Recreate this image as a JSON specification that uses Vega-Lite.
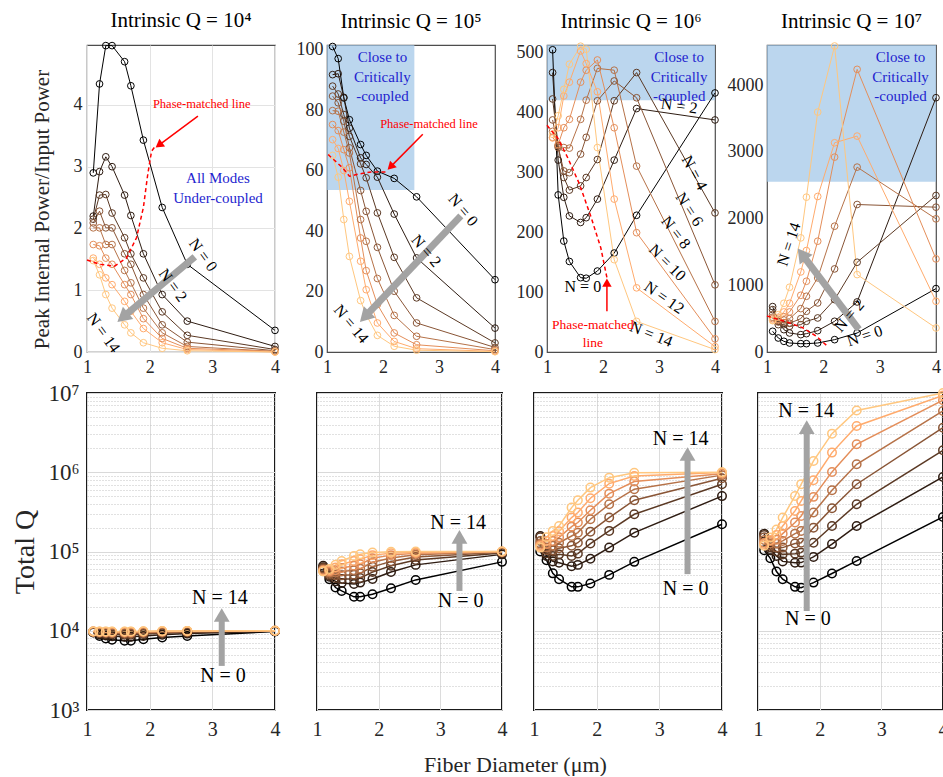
{
"$schema":"https://vega.github.io/schema/vega-lite/v6.json",
"background":"#ffffff",
"padding":{"left":10,"top":9,"right":0,"bottom":0},
"config":{
 "font":"Liberation Serif",
 "axis":{"labelFont":"Liberation Serif","titleFont":"Liberation Serif","labelColor":"#262626","titleColor":"#262626","titleFontWeight":"normal","domain":false,"ticks":false,"tickSize":0,"labelFlush":false,"labelOverlap":false},
 "title":{"font":"Liberation Serif","fontWeight":"normal","fontSize":21,"offset":9,"color":"#000000"},
 "text":{"font":"Liberation Serif"}
},
"datasets":{
"p1":[
{"N":0,"x":1.1,"y":2.9},{"N":0,"x":1.2,"y":4.34},{"N":0,"x":1.3,"y":4.96},{"N":0,"x":1.4,"y":4.96},{"N":0,"x":1.6,"y":4.7},{"N":0,"x":1.7,"y":4.31},{"N":0,"x":1.9,"y":3.43},{"N":0,"x":2.2,"y":2.34},{"N":0,"x":2.6,"y":1.42},{"N":0,"x":4,"y":0.35},
{"N":2,"x":1.1,"y":2.2},{"N":2,"x":1.2,"y":2.92},{"N":2,"x":1.3,"y":3.16},{"N":2,"x":1.4,"y":3.0},{"N":2,"x":1.6,"y":2.54},{"N":2,"x":1.7,"y":2.21},{"N":2,"x":1.9,"y":1.59},{"N":2,"x":2.2,"y":0.93},{"N":2,"x":2.6,"y":0.5},{"N":2,"x":4,"y":0.09},
{"N":4,"x":1.1,"y":2.15},{"N":4,"x":1.2,"y":2.54},{"N":4,"x":1.3,"y":2.55},{"N":4,"x":1.4,"y":2.25},{"N":4,"x":1.6,"y":1.85},{"N":4,"x":1.7,"y":1.59},{"N":4,"x":1.9,"y":1.2},{"N":4,"x":2.2,"y":0.65},{"N":4,"x":2.6,"y":0.27},{"N":4,"x":4,"y":0.04},
{"N":6,"x":1.1,"y":2.09},{"N":6,"x":1.2,"y":2.28},{"N":6,"x":1.3,"y":2.01},{"N":6,"x":1.4,"y":2.01},{"N":6,"x":1.6,"y":1.59},{"N":6,"x":1.7,"y":1.42},{"N":6,"x":1.9,"y":0.93},{"N":6,"x":2.2,"y":0.44},{"N":6,"x":2.6,"y":0.16},{"N":6,"x":4,"y":0.02},
{"N":8,"x":1.1,"y":2.01},{"N":8,"x":1.2,"y":2.01},{"N":8,"x":1.3,"y":1.74},{"N":8,"x":1.4,"y":1.74},{"N":8,"x":1.6,"y":1.32},{"N":8,"x":1.7,"y":1.12},{"N":8,"x":1.9,"y":0.71},{"N":8,"x":2.2,"y":0.31},{"N":8,"x":2.6,"y":0.09},{"N":8,"x":4,"y":0.01},
{"N":10,"x":1.1,"y":1.74},{"N":10,"x":1.2,"y":1.72},{"N":10,"x":1.3,"y":1.52},{"N":10,"x":1.4,"y":1.42},{"N":10,"x":1.6,"y":1.09},{"N":10,"x":1.7,"y":0.93},{"N":10,"x":1.9,"y":0.54},{"N":10,"x":2.2,"y":0.22},{"N":10,"x":2.6,"y":0.06},{"N":10,"x":4,"y":0.01},
{"N":12,"x":1.1,"y":1.52},{"N":12,"x":1.2,"y":1.42},{"N":12,"x":1.3,"y":1.2},{"N":12,"x":1.4,"y":1.09},{"N":12,"x":1.6,"y":0.82},{"N":12,"x":1.7,"y":0.66},{"N":12,"x":1.9,"y":0.38},{"N":12,"x":2.2,"y":0.15},{"N":12,"x":2.6,"y":0.04},{"N":12,"x":4,"y":0},
{"N":14,"x":1.1,"y":1.48},{"N":14,"x":1.2,"y":1.25},{"N":14,"x":1.3,"y":0.93},{"N":14,"x":1.4,"y":0.71},{"N":14,"x":1.6,"y":0.44},{"N":14,"x":1.7,"y":0.31},{"N":14,"x":1.9,"y":0.15},{"N":14,"x":2.2,"y":0.06},{"N":14,"x":2.6,"y":0.02},{"N":14,"x":4,"y":0}
],
"p2":[
{"N":0,"x":1.1,"y":101},{"N":0,"x":1.2,"y":97},{"N":0,"x":1.3,"y":84},{"N":0,"x":1.4,"y":76.8},{"N":0,"x":1.6,"y":68.6},{"N":0,"x":1.7,"y":65},{"N":0,"x":1.9,"y":59.8},{"N":0,"x":2.2,"y":57.4},{"N":0,"x":2.6,"y":51.3},{"N":0,"x":4,"y":23.9},
{"N":2,"x":1.1,"y":91.7},{"N":2,"x":1.2,"y":92},{"N":2,"x":1.3,"y":84.2},{"N":2,"x":1.4,"y":74},{"N":2,"x":1.6,"y":64.2},{"N":2,"x":1.7,"y":62},{"N":2,"x":1.9,"y":57.8},{"N":2,"x":2.2,"y":45.6},{"N":2,"x":2.6,"y":31.1},{"N":2,"x":4,"y":7.9},
{"N":4,"x":1.1,"y":87.9},{"N":4,"x":1.2,"y":85.3},{"N":4,"x":1.3,"y":78.5},{"N":4,"x":1.4,"y":71.3},{"N":4,"x":1.6,"y":62.2},{"N":4,"x":1.7,"y":57.6},{"N":4,"x":1.9,"y":46},{"N":4,"x":2.2,"y":31.3},{"N":4,"x":2.6,"y":17.9},{"N":4,"x":4,"y":3},
{"N":6,"x":1.1,"y":84.6},{"N":6,"x":1.2,"y":82.4},{"N":6,"x":1.3,"y":76.3},{"N":6,"x":1.4,"y":67.5},{"N":6,"x":1.6,"y":53.4},{"N":6,"x":1.7,"y":46.5},{"N":6,"x":1.9,"y":34.6},{"N":6,"x":2.2,"y":20.1},{"N":6,"x":2.6,"y":9.6},{"N":6,"x":4,"y":1.5},
{"N":8,"x":1.1,"y":79.8},{"N":8,"x":1.2,"y":79.6},{"N":8,"x":1.3,"y":72.7},{"N":8,"x":1.4,"y":65.8},{"N":8,"x":1.6,"y":43.8},{"N":8,"x":1.7,"y":36.6},{"N":8,"x":1.9,"y":24.3},{"N":8,"x":2.2,"y":12.1},{"N":8,"x":2.6,"y":5.2},{"N":8,"x":4,"y":0.8},
{"N":10,"x":1.1,"y":75.2},{"N":10,"x":1.2,"y":73.2},{"N":10,"x":1.3,"y":66.9},{"N":10,"x":1.4,"y":60.9},{"N":10,"x":1.6,"y":37.7},{"N":10,"x":1.7,"y":26.9},{"N":10,"x":1.9,"y":15.7},{"N":10,"x":2.2,"y":6.3},{"N":10,"x":2.6,"y":2.4},{"N":10,"x":4,"y":0.4},
{"N":12,"x":1.1,"y":70.2},{"N":12,"x":1.2,"y":67.3},{"N":12,"x":1.3,"y":60},{"N":12,"x":1.4,"y":49.8},{"N":12,"x":1.6,"y":30},{"N":12,"x":1.7,"y":20.6},{"N":12,"x":1.9,"y":9.6},{"N":12,"x":2.2,"y":3.5},{"N":12,"x":2.6,"y":1.1},{"N":12,"x":4,"y":0.2},
{"N":14,"x":1.1,"y":65},{"N":14,"x":1.2,"y":57.8},{"N":14,"x":1.3,"y":43.8},{"N":14,"x":1.4,"y":31.6},{"N":14,"x":1.6,"y":17},{"N":14,"x":1.7,"y":12.3},{"N":14,"x":1.9,"y":5.5},{"N":14,"x":2.2,"y":1.9},{"N":14,"x":2.6,"y":0.6},{"N":14,"x":4,"y":0.1}
],
"p3":[
{"N":0,"x":1.1,"y":504},{"N":0,"x":1.2,"y":262},{"N":0,"x":1.3,"y":185},{"N":0,"x":1.4,"y":151},{"N":0,"x":1.6,"y":124},{"N":0,"x":1.7,"y":123},{"N":0,"x":1.9,"y":135},{"N":0,"x":2.2,"y":165},{"N":0,"x":2.6,"y":228},{"N":0,"x":4,"y":432},
{"N":2,"x":1.1,"y":466},{"N":2,"x":1.2,"y":320},{"N":2,"x":1.3,"y":258},{"N":2,"x":1.4,"y":227},{"N":2,"x":1.6,"y":216},{"N":2,"x":1.7,"y":224},{"N":2,"x":1.9,"y":255},{"N":2,"x":2.2,"y":320},{"N":2,"x":2.6,"y":406},{"N":2,"x":4,"y":387},
{"N":4,"x":1.1,"y":422},{"N":4,"x":1.2,"y":344},{"N":4,"x":1.3,"y":291},{"N":4,"x":1.4,"y":270},{"N":4,"x":1.6,"y":277},{"N":4,"x":1.7,"y":291},{"N":4,"x":1.9,"y":321},{"N":4,"x":2.2,"y":419},{"N":4,"x":2.6,"y":466},{"N":4,"x":4,"y":232},
{"N":6,"x":1.1,"y":387},{"N":6,"x":1.2,"y":341},{"N":6,"x":1.3,"y":302},{"N":6,"x":1.4,"y":299},{"N":6,"x":1.6,"y":330},{"N":6,"x":1.7,"y":358},{"N":6,"x":1.9,"y":419},{"N":6,"x":2.2,"y":452},{"N":6,"x":2.6,"y":424},{"N":6,"x":4,"y":112},
{"N":8,"x":1.1,"y":368},{"N":8,"x":1.2,"y":344},{"N":8,"x":1.3,"y":341},{"N":8,"x":1.4,"y":340},{"N":8,"x":1.6,"y":388},{"N":8,"x":1.7,"y":420},{"N":8,"x":1.9,"y":473},{"N":8,"x":2.2,"y":470},{"N":8,"x":2.6,"y":310},{"N":8,"x":4,"y":51},
{"N":10,"x":1.1,"y":358},{"N":10,"x":1.2,"y":346},{"N":10,"x":1.3,"y":374},{"N":10,"x":1.4,"y":388},{"N":10,"x":1.6,"y":450},{"N":10,"x":1.7,"y":470},{"N":10,"x":1.9,"y":487},{"N":10,"x":2.2,"y":374},{"N":10,"x":2.6,"y":199},{"N":10,"x":4,"y":22},
{"N":12,"x":1.1,"y":357},{"N":12,"x":1.2,"y":374},{"N":12,"x":1.3,"y":427},{"N":12,"x":1.4,"y":450},{"N":12,"x":1.6,"y":502},{"N":12,"x":1.7,"y":481},{"N":12,"x":1.9,"y":434},{"N":12,"x":2.2,"y":255},{"N":12,"x":2.6,"y":107},{"N":12,"x":4,"y":9},
{"N":14,"x":1.1,"y":363},{"N":14,"x":1.2,"y":394},{"N":14,"x":1.3,"y":438},{"N":14,"x":1.4,"y":480},{"N":14,"x":1.6,"y":510},{"N":14,"x":1.7,"y":505},{"N":14,"x":1.9,"y":341},{"N":14,"x":2.2,"y":154},{"N":14,"x":2.6,"y":51},{"N":14,"x":4,"y":4}
],
"p4":[
{"N":0,"x":1.1,"y":310},{"N":0,"x":1.2,"y":210},{"N":0,"x":1.3,"y":160},{"N":0,"x":1.4,"y":135},{"N":0,"x":1.6,"y":125},{"N":0,"x":1.7,"y":125},{"N":0,"x":1.9,"y":135},{"N":0,"x":2.2,"y":185},{"N":0,"x":2.6,"y":285},{"N":0,"x":4,"y":950},
{"N":2,"x":1.1,"y":680},{"N":2,"x":1.2,"y":460},{"N":2,"x":1.3,"y":335},{"N":2,"x":1.4,"y":285},{"N":2,"x":1.6,"y":260},{"N":2,"x":1.7,"y":275},{"N":2,"x":1.9,"y":320},{"N":2,"x":2.2,"y":460},{"N":2,"x":2.6,"y":750},{"N":2,"x":4,"y":3810},
{"N":4,"x":1.1,"y":635},{"N":4,"x":1.2,"y":410},{"N":4,"x":1.3,"y":410},{"N":4,"x":1.4,"y":385},{"N":4,"x":1.6,"y":410},{"N":4,"x":1.7,"y":460},{"N":4,"x":1.9,"y":510},{"N":4,"x":2.2,"y":785},{"N":4,"x":2.6,"y":1345},{"N":4,"x":4,"y":2345},
{"N":6,"x":1.1,"y":560},{"N":6,"x":1.2,"y":450},{"N":6,"x":1.3,"y":440},{"N":6,"x":1.4,"y":430},{"N":6,"x":1.6,"y":500},{"N":6,"x":1.7,"y":610},{"N":6,"x":1.9,"y":735},{"N":6,"x":2.2,"y":1245},{"N":6,"x":2.6,"y":2210},{"N":6,"x":4,"y":2170},
{"N":8,"x":1.1,"y":520},{"N":8,"x":1.2,"y":470},{"N":8,"x":1.3,"y":480},{"N":8,"x":1.4,"y":500},{"N":8,"x":1.6,"y":650},{"N":8,"x":1.7,"y":835},{"N":8,"x":1.9,"y":1110},{"N":8,"x":2.2,"y":1885},{"N":8,"x":2.6,"y":2770},{"N":8,"x":4,"y":1995},
{"N":10,"x":1.1,"y":500},{"N":10,"x":1.2,"y":490},{"N":10,"x":1.3,"y":530},{"N":10,"x":1.4,"y":600},{"N":10,"x":1.6,"y":850},{"N":10,"x":1.7,"y":1060},{"N":10,"x":1.9,"y":1660},{"N":10,"x":2.2,"y":2920},{"N":10,"x":2.6,"y":4235},{"N":10,"x":4,"y":1395},
{"N":12,"x":1.1,"y":480},{"N":12,"x":1.2,"y":520},{"N":12,"x":1.3,"y":600},{"N":12,"x":1.4,"y":730},{"N":12,"x":1.6,"y":1200},{"N":12,"x":1.7,"y":1520},{"N":12,"x":1.9,"y":2330},{"N":12,"x":2.2,"y":3135},{"N":12,"x":2.6,"y":3235},{"N":12,"x":4,"y":760},
{"N":14,"x":1.1,"y":470},{"N":14,"x":1.2,"y":560},{"N":14,"x":1.3,"y":730},{"N":14,"x":1.4,"y":970},{"N":14,"x":1.6,"y":1710},{"N":14,"x":1.7,"y":2320},{"N":14,"x":1.9,"y":3595},{"N":14,"x":2.2,"y":4585},{"N":14,"x":2.6,"y":1160},{"N":14,"x":4,"y":360}
],
"b1":[
{"N":0,"x":1.1,"y":9500},{"N":0,"x":1.2,"y":8600},{"N":0,"x":1.3,"y":8000},{"N":0,"x":1.4,"y":7700},{"N":0,"x":1.6,"y":7500},{"N":0,"x":1.7,"y":7500},{"N":0,"x":1.9,"y":7800},{"N":0,"x":2.2,"y":8200},{"N":0,"x":2.6,"y":8600},{"N":0,"x":4,"y":9800},
{"N":2,"x":1.1,"y":9600},{"N":2,"x":1.2,"y":9000},{"N":2,"x":1.3,"y":8700},{"N":2,"x":1.4,"y":8500},{"N":2,"x":1.6,"y":8400},{"N":2,"x":1.7,"y":8400},{"N":2,"x":1.9,"y":8600},{"N":2,"x":2.2,"y":8900},{"N":2,"x":2.6,"y":9200},{"N":2,"x":4,"y":9900},
{"N":4,"x":1.1,"y":9650},{"N":4,"x":1.2,"y":9300},{"N":4,"x":1.3,"y":9100},{"N":4,"x":1.4,"y":9000},{"N":4,"x":1.6,"y":8900},{"N":4,"x":1.7,"y":8900},{"N":4,"x":1.9,"y":9100},{"N":4,"x":2.2,"y":9300},{"N":4,"x":2.6,"y":9500},{"N":4,"x":4,"y":9950},
{"N":6,"x":1.1,"y":9700},{"N":6,"x":1.2,"y":9500},{"N":6,"x":1.3,"y":9350},{"N":6,"x":1.4,"y":9300},{"N":6,"x":1.6,"y":9250},{"N":6,"x":1.7,"y":9250},{"N":6,"x":1.9,"y":9350},{"N":6,"x":2.2,"y":9500},{"N":6,"x":2.6,"y":9700},{"N":6,"x":4,"y":9970},
{"N":8,"x":1.1,"y":9750},{"N":8,"x":1.2,"y":9600},{"N":8,"x":1.3,"y":9500},{"N":8,"x":1.4,"y":9450},{"N":8,"x":1.6,"y":9450},{"N":8,"x":1.7,"y":9450},{"N":8,"x":1.9,"y":9550},{"N":8,"x":2.2,"y":9650},{"N":8,"x":2.6,"y":9800},{"N":8,"x":4,"y":9980},
{"N":10,"x":1.1,"y":9780},{"N":10,"x":1.2,"y":9700},{"N":10,"x":1.3,"y":9650},{"N":10,"x":1.4,"y":9600},{"N":10,"x":1.6,"y":9600},{"N":10,"x":1.7,"y":9620},{"N":10,"x":1.9,"y":9700},{"N":10,"x":2.2,"y":9780},{"N":10,"x":2.6,"y":9880},{"N":10,"x":4,"y":9990},
{"N":12,"x":1.1,"y":9800},{"N":12,"x":1.2,"y":9750},{"N":12,"x":1.3,"y":9720},{"N":12,"x":1.4,"y":9700},{"N":12,"x":1.6,"y":9720},{"N":12,"x":1.7,"y":9740},{"N":12,"x":1.9,"y":9800},{"N":12,"x":2.2,"y":9860},{"N":12,"x":2.6,"y":9930},{"N":12,"x":4,"y":9995},
{"N":14,"x":1.1,"y":9820},{"N":14,"x":1.2,"y":9800},{"N":14,"x":1.3,"y":9790},{"N":14,"x":1.4,"y":9790},{"N":14,"x":1.6,"y":9800},{"N":14,"x":1.7,"y":9820},{"N":14,"x":1.9,"y":9860},{"N":14,"x":2.2,"y":9900},{"N":14,"x":2.6,"y":9960},{"N":14,"x":4,"y":10000}
],
"b2":[
{"N":0,"x":1.1,"y":62700},{"N":0,"x":1.2,"y":44700},{"N":0,"x":1.3,"y":35100},{"N":0,"x":1.4,"y":31800},{"N":0,"x":1.6,"y":26800},{"N":0,"x":1.7,"y":26800},{"N":0,"x":1.9,"y":28900},{"N":0,"x":2.2,"y":34400},{"N":0,"x":2.6,"y":43800},{"N":0,"x":4,"y":74000},
{"N":2,"x":1.1,"y":66000},{"N":2,"x":1.2,"y":48000},{"N":2,"x":1.3,"y":42000},{"N":2,"x":1.4,"y":40000},{"N":2,"x":1.6,"y":39000},{"N":2,"x":1.7,"y":40500},{"N":2,"x":1.9,"y":45000},{"N":2,"x":2.2,"y":55000},{"N":2,"x":2.6,"y":67800},{"N":2,"x":4,"y":92000},
{"N":4,"x":1.1,"y":63000},{"N":4,"x":1.2,"y":50000},{"N":4,"x":1.3,"y":46000},{"N":4,"x":1.4,"y":45000},{"N":4,"x":1.6,"y":45000},{"N":4,"x":1.7,"y":46400},{"N":4,"x":1.9,"y":55000},{"N":4,"x":2.2,"y":66000},{"N":4,"x":2.6,"y":78000},{"N":4,"x":4,"y":96000},
{"N":6,"x":1.1,"y":61000},{"N":6,"x":1.2,"y":52000},{"N":6,"x":1.3,"y":50000},{"N":6,"x":1.4,"y":50000},{"N":6,"x":1.6,"y":51000},{"N":6,"x":1.7,"y":53000},{"N":6,"x":1.9,"y":64000},{"N":6,"x":2.2,"y":75000},{"N":6,"x":2.6,"y":85000},{"N":6,"x":4,"y":98000},
{"N":8,"x":1.1,"y":59000},{"N":8,"x":1.2,"y":54000},{"N":8,"x":1.3,"y":54000},{"N":8,"x":1.4,"y":56000},{"N":8,"x":1.6,"y":58000},{"N":8,"x":1.7,"y":60500},{"N":8,"x":1.9,"y":73000},{"N":8,"x":2.2,"y":83000},{"N":8,"x":2.6,"y":91000},{"N":8,"x":4,"y":99000},
{"N":10,"x":1.1,"y":58000},{"N":10,"x":1.2,"y":56000},{"N":10,"x":1.3,"y":58000},{"N":10,"x":1.4,"y":62000},{"N":10,"x":1.6,"y":66000},{"N":10,"x":1.7,"y":69000},{"N":10,"x":1.9,"y":82000},{"N":10,"x":2.2,"y":90000},{"N":10,"x":2.6,"y":95000},{"N":10,"x":4,"y":99500},
{"N":12,"x":1.1,"y":57000},{"N":12,"x":1.2,"y":58000},{"N":12,"x":1.3,"y":63000},{"N":12,"x":1.4,"y":69000},{"N":12,"x":1.6,"y":76000},{"N":12,"x":1.7,"y":80000},{"N":12,"x":1.9,"y":90000},{"N":12,"x":2.2,"y":95000},{"N":12,"x":2.6,"y":97000},{"N":12,"x":4,"y":99800},
{"N":14,"x":1.1,"y":56000},{"N":14,"x":1.2,"y":60000},{"N":14,"x":1.3,"y":68000},{"N":14,"x":1.4,"y":76000},{"N":14,"x":1.6,"y":88000},{"N":14,"x":1.7,"y":92500},{"N":14,"x":1.9,"y":97000},{"N":14,"x":2.2,"y":99000},{"N":14,"x":2.6,"y":100000},{"N":14,"x":4,"y":100000}
],
"b3":[
{"N":0,"x":1.1,"y":100000},{"N":0,"x":1.2,"y":77600},{"N":0,"x":1.3,"y":53000},{"N":0,"x":1.4,"y":44700},{"N":0,"x":1.6,"y":35800},{"N":0,"x":1.7,"y":35800},{"N":0,"x":1.9,"y":39400},{"N":0,"x":2.2,"y":50700},{"N":0,"x":2.6,"y":74000},{"N":0,"x":4,"y":221000},
{"N":2,"x":1.1,"y":157000},{"N":2,"x":1.2,"y":88000},{"N":2,"x":1.3,"y":75000},{"N":2,"x":1.4,"y":72000},{"N":2,"x":1.6,"y":65000},{"N":2,"x":1.7,"y":67800},{"N":2,"x":1.9,"y":81000},{"N":2,"x":2.2,"y":112000},{"N":2,"x":2.6,"y":173000},{"N":2,"x":4,"y":500000},
{"N":4,"x":1.1,"y":151000},{"N":4,"x":1.2,"y":95000},{"N":4,"x":1.3,"y":88000},{"N":4,"x":1.4,"y":92000},{"N":4,"x":1.6,"y":88000},{"N":4,"x":1.7,"y":94000},{"N":4,"x":1.9,"y":126000},{"N":4,"x":2.2,"y":182000},{"N":4,"x":2.6,"y":295000},{"N":4,"x":4,"y":706000},
{"N":6,"x":1.1,"y":136000},{"N":6,"x":1.2,"y":104000},{"N":6,"x":1.3,"y":104000},{"N":6,"x":1.4,"y":110000},{"N":6,"x":1.6,"y":118000},{"N":6,"x":1.7,"y":129000},{"N":6,"x":1.9,"y":178000},{"N":6,"x":2.2,"y":268000},{"N":6,"x":2.6,"y":444000},{"N":6,"x":4,"y":840000},
{"N":8,"x":1.1,"y":126000},{"N":8,"x":1.2,"y":112000},{"N":8,"x":1.3,"y":118000},{"N":8,"x":1.4,"y":129000},{"N":8,"x":1.6,"y":157000},{"N":8,"x":1.7,"y":173000},{"N":8,"x":1.9,"y":255000},{"N":8,"x":2.2,"y":394000},{"N":8,"x":2.6,"y":611000},{"N":8,"x":4,"y":920000},
{"N":10,"x":1.1,"y":121000},{"N":10,"x":1.2,"y":124000},{"N":10,"x":1.3,"y":136000},{"N":10,"x":1.4,"y":151000},{"N":10,"x":1.6,"y":206000},{"N":10,"x":1.7,"y":232000},{"N":10,"x":1.9,"y":331000},{"N":10,"x":2.2,"y":537000},{"N":10,"x":2.6,"y":763000},{"N":10,"x":4,"y":960000},
{"N":12,"x":1.1,"y":117000},{"N":12,"x":1.2,"y":136000},{"N":12,"x":1.3,"y":157000},{"N":12,"x":1.4,"y":180000},{"N":12,"x":1.6,"y":268000},{"N":12,"x":1.7,"y":310000},{"N":12,"x":1.9,"y":470000},{"N":12,"x":2.2,"y":718000},{"N":12,"x":2.6,"y":897000},{"N":12,"x":4,"y":990000},
{"N":14,"x":1.1,"y":112000},{"N":14,"x":1.2,"y":151000},{"N":14,"x":1.3,"y":182000},{"N":14,"x":1.4,"y":210000},{"N":14,"x":1.6,"y":358000},{"N":14,"x":1.7,"y":444000},{"N":14,"x":1.9,"y":640000},{"N":14,"x":2.2,"y":855000},{"N":14,"x":2.6,"y":988000},{"N":14,"x":4,"y":1000000}
],
"b4":[
{"N":0,"x":1.1,"y":104000},{"N":0,"x":1.2,"y":82000},{"N":0,"x":1.3,"y":55800},{"N":0,"x":1.4,"y":44700},{"N":0,"x":1.6,"y":35800},{"N":0,"x":1.7,"y":35000},{"N":0,"x":1.9,"y":40500},{"N":0,"x":2.2,"y":52700},{"N":0,"x":2.6,"y":76000},{"N":0,"x":4,"y":273000},
{"N":2,"x":1.1,"y":168000},{"N":2,"x":1.2,"y":104000},{"N":2,"x":1.3,"y":88000},{"N":2,"x":1.4,"y":75000},{"N":2,"x":1.6,"y":72000},{"N":2,"x":1.7,"y":72400},{"N":2,"x":1.9,"y":85500},{"N":2,"x":2.2,"y":124000},{"N":2,"x":2.6,"y":210000},{"N":2,"x":4,"y":871000},
{"N":4,"x":1.1,"y":162000},{"N":4,"x":1.2,"y":112000},{"N":4,"x":1.3,"y":100000},{"N":4,"x":1.4,"y":92000},{"N":4,"x":1.6,"y":94000},{"N":4,"x":1.7,"y":96800},{"N":4,"x":1.9,"y":129000},{"N":4,"x":2.2,"y":210000},{"N":4,"x":2.6,"y":394000},{"N":4,"x":4,"y":1890000},
{"N":6,"x":1.1,"y":151000},{"N":6,"x":1.2,"y":118000},{"N":6,"x":1.3,"y":112000},{"N":6,"x":1.4,"y":112000},{"N":6,"x":1.6,"y":126000},{"N":6,"x":1.7,"y":129000},{"N":6,"x":1.9,"y":200000},{"N":6,"x":2.2,"y":352000},{"N":6,"x":2.6,"y":706000},{"N":6,"x":4,"y":3650000},
{"N":8,"x":1.1,"y":140000},{"N":8,"x":1.2,"y":126000},{"N":8,"x":1.3,"y":126000},{"N":8,"x":1.4,"y":136000},{"N":8,"x":1.6,"y":168000},{"N":8,"x":1.7,"y":182000},{"N":8,"x":1.9,"y":310000},{"N":8,"x":2.2,"y":593000},{"N":8,"x":2.6,"y":1260000},{"N":8,"x":4,"y":5930000},
{"N":10,"x":1.1,"y":129000},{"N":10,"x":1.2,"y":136000},{"N":10,"x":1.3,"y":141000},{"N":10,"x":1.4,"y":168000},{"N":10,"x":1.6,"y":232000},{"N":10,"x":1.7,"y":281000},{"N":10,"x":1.9,"y":489000},{"N":10,"x":2.2,"y":1010000},{"N":10,"x":2.6,"y":2250000},{"N":10,"x":4,"y":8100000},
{"N":12,"x":1.1,"y":124000},{"N":12,"x":1.2,"y":140000},{"N":12,"x":1.3,"y":162000},{"N":12,"x":1.4,"y":210000},{"N":12,"x":1.6,"y":325000},{"N":12,"x":1.7,"y":434000},{"N":12,"x":1.9,"y":793000},{"N":12,"x":2.2,"y":1770000},{"N":12,"x":2.6,"y":3840000},{"N":12,"x":4,"y":9300000},
{"N":14,"x":1.1,"y":118000},{"N":14,"x":1.2,"y":150000},{"N":14,"x":1.3,"y":190000},{"N":14,"x":1.4,"y":268000},{"N":14,"x":1.6,"y":502000},{"N":14,"x":1.7,"y":706000},{"N":14,"x":1.9,"y":1390000},{"N":14,"x":2.2,"y":3070000},{"N":14,"x":2.6,"y":6030000},{"N":14,"x":4,"y":10000000}
],
"ph1":[{"x":1.0,"y":1.49},{"x":1.2,"y":1.42},{"x":1.44,"y":1.39},{"x":1.63,"y":1.52},{"x":1.79,"y":1.85},{"x":1.9,"y":2.34},{"x":1.97,"y":2.88},{"x":2.03,"y":3.25},{"x":2.08,"y":3.32}],
"ph2":[{"x":1.02,"y":65.3},{"x":1.28,"y":60.9},{"x":1.4,"y":58.1},{"x":1.58,"y":58.9},{"x":1.79,"y":59.5},{"x":2.05,"y":59.5}],
"ph3":[{"x":1.0,"y":378},{"x":1.19,"y":357},{"x":1.37,"y":324},{"x":1.58,"y":280},{"x":1.79,"y":224},{"x":1.96,"y":174},{"x":2.07,"y":124}],
"ph4":[{"x":1.0,"y":540},{"x":1.33,"y":455},{"x":1.63,"y":365},{"x":1.87,"y":240},{"x":2.07,"y":90}]
},
"vconcat":[
{"hconcat":[
{"width":188,"height":307,"title":{"text":"Intrinsic Q = 10⁴"},"view":{"stroke":"#4d4d4d","strokeWidth":1.2},
"layer":[
{"encoding":{
"x":{"field":"x","type":"quantitative","scale":{"domain":[1,4],"nice":false,"zero":false},"axis":{"values":[1,2,3,4],"title":null,"labelFontSize":18,"labelPadding":6,"gridColor":"#e3e3e3","format":"d"}},
"y":{"field":"y","type":"quantitative","scale":{"domain":[0,4.97],"nice":false,"zero":false},"axis":{"values":[0,1,2,3,4],"title":"Peak Internal Power/Input Power","titleFontSize":21,"titlePadding":21,"titleY":164,"labelFontSize":18,"labelPadding":5,"gridColor":"#e3e3e3","format":"d"}}},
"layer":[
{"data":{"name":"p1"},"mark":{"type":"line","strokeWidth":1},"encoding":{"color":{"field":"N","type":"ordinal","scale":{"domain":[0,2,4,6,8,10,12,14],"range":["#000000","#2e1c12","#5b3924","#895536","#b67248","#e48e5a","#ffab6d","#ffc77f"]},"legend":null}}},
{"data":{"name":"p1"},"mark":{"type":"point","shape":"circle","filled":false,"size":45,"strokeWidth":1,"opacity":1},"encoding":{"color":{"field":"N","type":"ordinal","scale":{"domain":[0,2,4,6,8,10,12,14],"range":["#000000","#2e1c12","#5b3924","#895536","#b67248","#e48e5a","#ffab6d","#ffc77f"]},"legend":null}}},
{"data":{"name":"ph1"},"mark":{"type":"line","color":"#ff0000","strokeDash":[4,3],"strokeWidth":1.5},"encoding":{}}
]},
{"data":{"values":[{}]},"mark":{"type":"text","text":"Phase-matched line","fontSize":12.5,"color":"#ff0000"},"encoding":{"x":{"datum":2.83},"y":{"datum":4.01}}},
{"data":{"values":[{}]},"mark":{"type":"rule","color":"#ff0000","strokeWidth":1.5},"encoding":{"x":{"datum":2.77},"y":{"datum":3.82},"x2":{"datum":2.148},"y2":{"datum":3.35}}},
{"data":{"values":[{}]},"mark":{"type":"point","shape":"triangle-up","filled":true,"color":"#ff0000","opacity":1,"size":90,"angle":233,"strokeWidth":0},"encoding":{"x":{"datum":2.148},"y":{"datum":3.35}}},
{"data":{"values":[{}]},"mark":{"type":"text","text":["All Modes","Under-coupled"],"fontSize":15,"lineHeight":20,"baseline":"top","color":"#1f1fcf"},"encoding":{"x":{"datum":3.09},"y":{"datum":2.93}}},
{"data":{"values":[{}]},"mark":{"type":"rule","color":"#a3a3a3","strokeWidth":7},"encoding":{"x":{"datum":2.72},"y":{"datum":1.54},"x2":{"datum":1.57},"y2":{"datum":0.56}}},
{"data":{"values":[{}]},"mark":{"type":"point","shape":"triangle-up","filled":true,"color":"#a3a3a3","opacity":1,"size":260,"angle":230,"strokeWidth":0},"encoding":{"x":{"datum":1.57},"y":{"datum":0.56}}},
{"data":{"values":[{}]},"mark":{"type":"text","text":"N = 0","fontSize":16,"angle":54,"color":"#000000"},"encoding":{"x":{"datum":2.85},"y":{"datum":1.57}}},
{"data":{"values":[{}]},"mark":{"type":"text","text":"N = 2","fontSize":16,"angle":54,"color":"#000000"},"encoding":{"x":{"datum":2.37},"y":{"datum":1.08}}},
{"data":{"values":[{}]},"mark":{"type":"text","text":"N = 14","fontSize":16,"angle":54,"color":"#000000"},"encoding":{"x":{"datum":1.26},"y":{"datum":0.31}}}
]},
{"width":168,"height":307,"title":{"text":"Intrinsic Q = 10⁵"},"view":{"stroke":"#4d4d4d","strokeWidth":1.2},
"layer":[
{"data":{"values":[{}]},"mark":{"type":"rect","color":"#a1c6e7","opacity":0.72},"encoding":{"x":{"datum":1},"x2":{"datum":2.56},"y":{"datum":53.6},"y2":{"datum":101.5}}},
{"encoding":{
"x":{"field":"x","type":"quantitative","scale":{"domain":[1,4],"nice":false,"zero":false},"axis":{"values":[1,2,3,4],"title":null,"labelFontSize":18,"labelPadding":6,"gridColor":"#e3e3e3","format":"d"}},
"y":{"field":"y","type":"quantitative","scale":{"domain":[0,101.5],"nice":false,"zero":false},"axis":{"values":[0,20,40,60,80,100],"title":null,"labelFontSize":18,"labelPadding":4,"gridColor":"#e3e3e3","format":"d"}}},
"layer":[
{"data":{"name":"p2"},"mark":{"type":"line","strokeWidth":1},"encoding":{"color":{"field":"N","type":"ordinal","scale":{"domain":[0,2,4,6,8,10,12,14],"range":["#000000","#2e1c12","#5b3924","#895536","#b67248","#e48e5a","#ffab6d","#ffc77f"]},"legend":null}}},
{"data":{"name":"p2"},"mark":{"type":"point","shape":"circle","filled":false,"size":45,"strokeWidth":1,"opacity":1},"encoding":{"color":{"field":"N","type":"ordinal","scale":{"domain":[0,2,4,6,8,10,12,14],"range":["#000000","#2e1c12","#5b3924","#895536","#b67248","#e48e5a","#ffab6d","#ffc77f"]},"legend":null}}},
{"data":{"name":"ph2"},"mark":{"type":"line","color":"#ff0000","strokeDash":[4,3],"strokeWidth":1.5},"encoding":{}}
]},
{"data":{"values":[{}]},"mark":{"type":"text","text":["Close to","Critically","-coupled"],"fontSize":15,"lineHeight":19.3,"baseline":"top","color":"#1f1fcf"},"encoding":{"x":{"datum":1.99},"y":{"datum":99.7}}},
{"data":{"values":[{}]},"mark":{"type":"text","text":"Phase-matched line","fontSize":12.5,"color":"#ff0000"},"encoding":{"x":{"datum":2.82},"y":{"datum":75.5}}},
{"data":{"values":[{}]},"mark":{"type":"rule","color":"#ff0000","strokeWidth":1.5},"encoding":{"x":{"datum":2.71},"y":{"datum":72},"x2":{"datum":2.134},"y2":{"datum":61.2}}},
{"data":{"values":[{}]},"mark":{"type":"point","shape":"triangle-up","filled":true,"color":"#ff0000","opacity":1,"size":90,"angle":225,"strokeWidth":0},"encoding":{"x":{"datum":2.134},"y":{"datum":61.2}}},
{"data":{"values":[{}]},"mark":{"type":"rule","color":"#a3a3a3","strokeWidth":7},"encoding":{"x":{"datum":3.39},"y":{"datum":45},"x2":{"datum":1.675},"y2":{"datum":11.6}}},
{"data":{"values":[{}]},"mark":{"type":"point","shape":"triangle-up","filled":true,"color":"#a3a3a3","opacity":1,"size":260,"angle":224,"strokeWidth":0},"encoding":{"x":{"datum":1.675},"y":{"datum":11.6}}},
{"data":{"values":[{}]},"mark":{"type":"text","text":"N = 0","fontSize":16,"angle":50,"color":"#000000"},"encoding":{"x":{"datum":3.43},"y":{"datum":46.9}}},
{"data":{"values":[{}]},"mark":{"type":"text","text":"N = 2","fontSize":16,"angle":50,"color":"#000000"},"encoding":{"x":{"datum":2.77},"y":{"datum":33.4}}},
{"data":{"values":[{}]},"mark":{"type":"text","text":"N = 14","fontSize":16,"angle":50,"color":"#000000"},"encoding":{"x":{"datum":1.43},"y":{"datum":9.2}}}
]},
{"width":168,"height":307,"title":{"text":"Intrinsic Q = 10⁶"},"view":{"stroke":"#4d4d4d","strokeWidth":1.2},
"layer":[
{"data":{"values":[{}]},"mark":{"type":"rect","color":"#a1c6e7","opacity":0.72},"encoding":{"x":{"datum":1},"x2":{"datum":4},"y":{"datum":420},"y2":{"datum":512}}},
{"encoding":{
"x":{"field":"x","type":"quantitative","scale":{"domain":[1,4],"nice":false,"zero":false},"axis":{"values":[1,2,3,4],"title":null,"labelFontSize":18,"labelPadding":6,"gridColor":"#e3e3e3","format":"d"}},
"y":{"field":"y","type":"quantitative","scale":{"domain":[0,512],"nice":false,"zero":false},"axis":{"values":[0,100,200,300,400,500],"title":null,"labelFontSize":18,"labelPadding":4,"gridColor":"#e3e3e3","format":"d"}}},
"layer":[
{"data":{"name":"p3"},"mark":{"type":"line","strokeWidth":1},"encoding":{"color":{"field":"N","type":"ordinal","scale":{"domain":[0,2,4,6,8,10,12,14],"range":["#000000","#2e1c12","#5b3924","#895536","#b67248","#e48e5a","#ffab6d","#ffc77f"]},"legend":null}}},
{"data":{"name":"p3"},"mark":{"type":"point","shape":"circle","filled":false,"size":45,"strokeWidth":1,"opacity":1},"encoding":{"color":{"field":"N","type":"ordinal","scale":{"domain":[0,2,4,6,8,10,12,14],"range":["#000000","#2e1c12","#5b3924","#895536","#b67248","#e48e5a","#ffab6d","#ffc77f"]},"legend":null}}},
{"data":{"name":"ph3"},"mark":{"type":"line","color":"#ff0000","strokeDash":[4,3],"strokeWidth":1.5},"encoding":{}}
]},
{"data":{"values":[{}]},"mark":{"type":"text","text":["Close to","Critically","-coupled"],"fontSize":15,"lineHeight":19.3,"baseline":"top","color":"#1f1fcf"},"encoding":{"x":{"datum":3.36},"y":{"datum":503}}},
{"data":{"values":[{}]},"mark":{"type":"text","text":"N = 2","fontSize":16,"angle":8,"color":"#000000"},"encoding":{"x":{"datum":3.36},"y":{"datum":410}}},
{"data":{"values":[{}]},"mark":{"type":"text","text":"N = 4","fontSize":16,"angle":62,"color":"#000000"},"encoding":{"x":{"datum":3.63},"y":{"datum":299}}},
{"data":{"values":[{}]},"mark":{"type":"text","text":"N = 6","fontSize":16,"angle":57,"color":"#000000"},"encoding":{"x":{"datum":3.54},"y":{"datum":238}}},
{"data":{"values":[{}]},"mark":{"type":"text","text":"N = 8","fontSize":16,"angle":52,"color":"#000000"},"encoding":{"x":{"datum":3.3},"y":{"datum":199}}},
{"data":{"values":[{}]},"mark":{"type":"text","text":"N = 10","fontSize":16,"angle":45,"color":"#000000"},"encoding":{"x":{"datum":3.15},"y":{"datum":149}}},
{"data":{"values":[{}]},"mark":{"type":"text","text":"N = 12","fontSize":16,"angle":35,"color":"#000000"},"encoding":{"x":{"datum":3.09},"y":{"datum":90.6}}},
{"data":{"values":[{}]},"mark":{"type":"text","text":"N = 14","fontSize":16,"angle":22,"color":"#000000"},"encoding":{"x":{"datum":2.86},"y":{"datum":29.5}}},
{"data":{"values":[{}]},"mark":{"type":"text","text":"N = 0","fontSize":16,"angle":0,"color":"#000000"},"encoding":{"x":{"datum":1.64},"y":{"datum":108}}},
{"data":{"values":[{}]},"mark":{"type":"text","text":["Phase-matched","line"],"fontSize":13.5,"lineHeight":17.6,"baseline":"top","color":"#ff0000"},"encoding":{"x":{"datum":1.82},"y":{"datum":56}}},
{"data":{"values":[{}]},"mark":{"type":"rule","color":"#ff0000","strokeWidth":1.5},"encoding":{"x":{"datum":2.07},"y":{"datum":68},"x2":{"datum":2.07},"y2":{"datum":115.6}}},
{"data":{"values":[{}]},"mark":{"type":"point","shape":"triangle-up","filled":true,"color":"#ff0000","opacity":1,"size":90,"angle":0,"strokeWidth":0},"encoding":{"x":{"datum":2.07},"y":{"datum":115.6}}}
]},
{"width":169,"height":307,"title":{"text":"Intrinsic Q = 10⁷"},"view":{"stroke":"#4d4d4d","strokeWidth":1.2},
"layer":[
{"data":{"values":[{}]},"mark":{"type":"rect","color":"#a1c6e7","opacity":0.72},"encoding":{"x":{"datum":1},"x2":{"datum":4},"y":{"datum":2550},"y2":{"datum":4600}}},
{"encoding":{
"x":{"field":"x","type":"quantitative","scale":{"domain":[1,4],"nice":false,"zero":false},"axis":{"values":[1,2,3,4],"title":null,"labelFontSize":18,"labelPadding":6,"gridColor":"#e3e3e3","format":"d"}},
"y":{"field":"y","type":"quantitative","scale":{"domain":[0,4600],"nice":false,"zero":false},"axis":{"values":[0,1000,2000,3000,4000],"title":null,"labelFontSize":18,"labelPadding":4,"gridColor":"#e3e3e3","format":"d"}}},
"layer":[
{"data":{"name":"p4"},"mark":{"type":"line","strokeWidth":1},"encoding":{"color":{"field":"N","type":"ordinal","scale":{"domain":[0,2,4,6,8,10,12,14],"range":["#000000","#2e1c12","#5b3924","#895536","#b67248","#e48e5a","#ffab6d","#ffc77f"]},"legend":null}}},
{"data":{"name":"p4"},"mark":{"type":"point","shape":"circle","filled":false,"size":45,"strokeWidth":1,"opacity":1},"encoding":{"color":{"field":"N","type":"ordinal","scale":{"domain":[0,2,4,6,8,10,12,14],"range":["#000000","#2e1c12","#5b3924","#895536","#b67248","#e48e5a","#ffab6d","#ffc77f"]},"legend":null}}},
{"data":{"name":"ph4"},"mark":{"type":"line","color":"#ff0000","strokeDash":[4,3],"strokeWidth":1.5},"encoding":{}}
]},
{"data":{"values":[{}]},"mark":{"type":"text","text":["Close to","Critically","-coupled"],"fontSize":15,"lineHeight":19.3,"baseline":"top","color":"#1f1fcf"},"encoding":{"x":{"datum":3.37},"y":{"datum":4520}}},
{"data":{"values":[{}]},"mark":{"type":"rule","color":"#a3a3a3","strokeWidth":7},"encoding":{"x":{"datum":2.63},"y":{"datum":340},"x2":{"datum":1.62},"y2":{"datum":1467}}},
{"data":{"values":[{}]},"mark":{"type":"point","shape":"triangle-up","filled":true,"color":"#a3a3a3","opacity":1,"size":260,"angle":323,"strokeWidth":0},"encoding":{"x":{"datum":1.62},"y":{"datum":1467}}},
{"data":{"values":[{}]},"mark":{"type":"text","text":"N = 14","fontSize":16,"angle":-72,"color":"#000000"},"encoding":{"x":{"datum":1.39},"y":{"datum":1614}}},
{"data":{"values":[{}]},"mark":{"type":"text","text":"N = 2","fontSize":16,"angle":-49,"color":"#000000"},"encoding":{"x":{"datum":2.46},"y":{"datum":540}}},
{"data":{"values":[{}]},"mark":{"type":"text","text":"N = 0","fontSize":16,"angle":-18,"color":"#000000"},"encoding":{"x":{"datum":2.735},"y":{"datum":240}}}
]}
],"spacing":52,"bounds":"flush"},
{"hconcat":[
{"width":188,"height":317,"view":{"stroke":"#1a1a1a","strokeWidth":2},
"layer":[
{"encoding":{
"x":{"field":"x","type":"quantitative","scale":{"domain":[1,4],"nice":false,"zero":false},"axis":{"values":[1,2,3,4],"title":null,"labelFontSize":20,"labelPadding":9,"gridColor":"#dcdcdc","format":"d"}},
"y":{"field":"y","type":"quantitative","scale":{"type":"log","domain":[1000,10000000],"nice":false},"axis":{"values":[1000,2000,3000,4000,5000,6000,7000,8000,9000,10000,20000,30000,40000,50000,60000,70000,80000,90000,100000,200000,300000,400000,500000,600000,700000,800000,900000,1000000,2000000,3000000,4000000,5000000,6000000,7000000,8000000,9000000,10000000],"title":"Total Q","titleFontSize":28,"titlePadding":8,"labelFontSize":23,"labelPadding":8,"labelExpr":"datum.value == 1000 ? '10³' : datum.value == 10000 ? '10⁴' : datum.value == 100000 ? '10⁵' : datum.value == 1000000 ? '10⁶' : datum.value == 10000000 ? '10⁷' : ''","gridColor":{"condition":{"test":"datum.value==1000||datum.value==10000||datum.value==100000||datum.value==1000000||datum.value==10000000","value":"#d9d9d9"},"value":"#c2c2c2"},"gridDash":{"condition":{"test":"datum.value==1000||datum.value==10000||datum.value==100000||datum.value==1000000||datum.value==10000000","value":[]},"value":[1,2]}}}},
"layer":[
{"data":{"name":"b1"},"mark":{"type":"line","strokeWidth":1.5},"encoding":{"color":{"field":"N","type":"ordinal","scale":{"domain":[0,2,4,6,8,10,12,14],"range":["#000000","#2e1c12","#5b3924","#895536","#b67248","#e48e5a","#ffab6d","#ffc77f"]},"legend":null}}},
{"data":{"name":"b1"},"mark":{"type":"point","shape":"circle","filled":false,"size":72,"strokeWidth":1.5,"opacity":1},"encoding":{"color":{"field":"N","type":"ordinal","scale":{"domain":[0,2,4,6,8,10,12,14],"range":["#000000","#2e1c12","#5b3924","#895536","#b67248","#e48e5a","#ffab6d","#ffc77f"]},"legend":null}}}
]},
{"data":{"values":[{}]},"mark":{"type":"rule","color":"#a3a3a3","strokeWidth":6},"encoding":{"x":{"datum":3.15},"y":{"datum":3600},"y2":{"datum":15800}}},
{"data":{"values":[{}]},"mark":{"type":"point","shape":"triangle-up","filled":true,"color":"#a3a3a3","opacity":1,"size":250,"angle":0,"strokeWidth":0},"encoding":{"x":{"datum":3.15},"y":{"datum":15800}}},
{"data":{"values":[{}]},"mark":{"type":"text","text":"N = 14","fontSize":20,"color":"#000000"},"encoding":{"x":{"datum":3.12},"y":{"datum":26200}}},
{"data":{"values":[{}]},"mark":{"type":"text","text":"N = 0","fontSize":20,"color":"#000000"},"encoding":{"x":{"datum":3.17},"y":{"datum":2700}}}
]},
{"hconcat":[
{"width":185,"height":317,"view":{"stroke":"#1a1a1a","strokeWidth":2},
"layer":[
{"encoding":{
"x":{"field":"x","type":"quantitative","scale":{"domain":[1,4],"nice":false,"zero":false},"axis":{"values":[1,2,3,4],"title":"Fiber Diameter (μm)","titleFontSize":22,"titleX":198,"titleY":61,"titleAlign":"center","titleBaseline":"alphabetic","labelFontSize":20,"labelPadding":9,"gridColor":"#dcdcdc","format":"d"}},
"y":{"field":"y","type":"quantitative","scale":{"type":"log","domain":[1000,10000000],"nice":false},"axis":{"values":[1000,2000,3000,4000,5000,6000,7000,8000,9000,10000,20000,30000,40000,50000,60000,70000,80000,90000,100000,200000,300000,400000,500000,600000,700000,800000,900000,1000000,2000000,3000000,4000000,5000000,6000000,7000000,8000000,9000000,10000000],"title":null,"labels":false,"gridColor":{"condition":{"test":"datum.value==1000||datum.value==10000||datum.value==100000||datum.value==1000000||datum.value==10000000","value":"#d9d9d9"},"value":"#c2c2c2"},"gridDash":{"condition":{"test":"datum.value==1000||datum.value==10000||datum.value==100000||datum.value==1000000||datum.value==10000000","value":[]},"value":[1,2]}}}},
"layer":[
{"data":{"name":"b2"},"mark":{"type":"line","strokeWidth":1.5},"encoding":{"color":{"field":"N","type":"ordinal","scale":{"domain":[0,2,4,6,8,10,12,14],"range":["#000000","#2e1c12","#5b3924","#895536","#b67248","#e48e5a","#ffab6d","#ffc77f"]},"legend":null}}},
{"data":{"name":"b2"},"mark":{"type":"point","shape":"circle","filled":false,"size":72,"strokeWidth":1.5,"opacity":1},"encoding":{"color":{"field":"N","type":"ordinal","scale":{"domain":[0,2,4,6,8,10,12,14],"range":["#000000","#2e1c12","#5b3924","#895536","#b67248","#e48e5a","#ffab6d","#ffc77f"]},"legend":null}}}
]},
{"data":{"values":[{}]},"mark":{"type":"rule","color":"#a3a3a3","strokeWidth":6},"encoding":{"x":{"datum":3.31},"y":{"datum":31800},"y2":{"datum":153000}}},
{"data":{"values":[{}]},"mark":{"type":"point","shape":"triangle-up","filled":true,"color":"#a3a3a3","opacity":1,"size":250,"angle":0,"strokeWidth":0},"encoding":{"x":{"datum":3.31},"y":{"datum":153000}}},
{"data":{"values":[{}]},"mark":{"type":"text","text":"N = 14","fontSize":20,"color":"#000000"},"encoding":{"x":{"datum":3.29},"y":{"datum":232000}}},
{"data":{"values":[{}]},"mark":{"type":"text","text":"N = 0","fontSize":20,"color":"#000000"},"encoding":{"x":{"datum":3.33},"y":{"datum":23800}}}
]},
{"hconcat":[
{"width":188,"height":317,"view":{"stroke":"#1a1a1a","strokeWidth":2},
"layer":[
{"encoding":{
"x":{"field":"x","type":"quantitative","scale":{"domain":[1,4],"nice":false,"zero":false},"axis":{"values":[1,2,3,4],"title":null,"labelFontSize":20,"labelPadding":9,"gridColor":"#dcdcdc","format":"d"}},
"y":{"field":"y","type":"quantitative","scale":{"type":"log","domain":[1000,10000000],"nice":false},"axis":{"values":[1000,2000,3000,4000,5000,6000,7000,8000,9000,10000,20000,30000,40000,50000,60000,70000,80000,90000,100000,200000,300000,400000,500000,600000,700000,800000,900000,1000000,2000000,3000000,4000000,5000000,6000000,7000000,8000000,9000000,10000000],"title":null,"labels":false,"gridColor":{"condition":{"test":"datum.value==1000||datum.value==10000||datum.value==100000||datum.value==1000000||datum.value==10000000","value":"#d9d9d9"},"value":"#c2c2c2"},"gridDash":{"condition":{"test":"datum.value==1000||datum.value==10000||datum.value==100000||datum.value==1000000||datum.value==10000000","value":[]},"value":[1,2]}}}},
"layer":[
{"data":{"name":"b3"},"mark":{"type":"line","strokeWidth":1.5},"encoding":{"color":{"field":"N","type":"ordinal","scale":{"domain":[0,2,4,6,8,10,12,14],"range":["#000000","#2e1c12","#5b3924","#895536","#b67248","#e48e5a","#ffab6d","#ffc77f"]},"legend":null}}},
{"data":{"name":"b3"},"mark":{"type":"point","shape":"circle","filled":false,"size":72,"strokeWidth":1.5,"opacity":1},"encoding":{"color":{"field":"N","type":"ordinal","scale":{"domain":[0,2,4,6,8,10,12,14],"range":["#000000","#2e1c12","#5b3924","#895536","#b67248","#e48e5a","#ffab6d","#ffc77f"]},"legend":null}}}
]},
{"data":{"values":[{}]},"mark":{"type":"rule","color":"#a3a3a3","strokeWidth":6},"encoding":{"x":{"datum":3.45},"y":{"datum":51800},"y2":{"datum":1700000}}},
{"data":{"values":[{}]},"mark":{"type":"point","shape":"triangle-up","filled":true,"color":"#a3a3a3","opacity":1,"size":250,"angle":0,"strokeWidth":0},"encoding":{"x":{"datum":3.45},"y":{"datum":1700000}}},
{"data":{"values":[{}]},"mark":{"type":"text","text":"N = 14","fontSize":20,"color":"#000000"},"encoding":{"x":{"datum":3.34},"y":{"datum":2600000}}},
{"data":{"values":[{}]},"mark":{"type":"text","text":"N = 0","fontSize":20,"color":"#000000"},"encoding":{"x":{"datum":3.42},"y":{"datum":33400}}}
]},
{"width":185,"height":317,"view":{"stroke":"#1a1a1a","strokeWidth":2},
"layer":[
{"encoding":{
"x":{"field":"x","type":"quantitative","scale":{"domain":[1,4],"nice":false,"zero":false},"axis":{"values":[1,2,3,4],"title":null,"labelFontSize":20,"labelPadding":9,"gridColor":"#dcdcdc","format":"d"}},
"y":{"field":"y","type":"quantitative","scale":{"type":"log","domain":[1000,10000000],"nice":false},"axis":{"values":[1000,2000,3000,4000,5000,6000,7000,8000,9000,10000,20000,30000,40000,50000,60000,70000,80000,90000,100000,200000,300000,400000,500000,600000,700000,800000,900000,1000000,2000000,3000000,4000000,5000000,6000000,7000000,8000000,9000000,10000000],"title":null,"labels":false,"gridColor":{"condition":{"test":"datum.value==1000||datum.value==10000||datum.value==100000||datum.value==1000000||datum.value==10000000","value":"#d9d9d9"},"value":"#c2c2c2"},"gridDash":{"condition":{"test":"datum.value==1000||datum.value==10000||datum.value==100000||datum.value==1000000||datum.value==10000000","value":[]},"value":[1,2]}}}},
"layer":[
{"data":{"name":"b4"},"mark":{"type":"line","strokeWidth":1.5},"encoding":{"color":{"field":"N","type":"ordinal","scale":{"domain":[0,2,4,6,8,10,12,14],"range":["#000000","#2e1c12","#5b3924","#895536","#b67248","#e48e5a","#ffab6d","#ffc77f"]},"legend":null}}},
{"data":{"name":"b4"},"mark":{"type":"point","shape":"circle","filled":false,"size":72,"strokeWidth":1.5,"opacity":1},"encoding":{"color":{"field":"N","type":"ordinal","scale":{"domain":[0,2,4,6,8,10,12,14],"range":["#000000","#2e1c12","#5b3924","#895536","#b67248","#e48e5a","#ffab6d","#ffc77f"]},"legend":null}}}
]},
{"data":{"values":[{}]},"mark":{"type":"rule","color":"#a3a3a3","strokeWidth":6},"encoding":{"x":{"datum":1.79},"y":{"datum":17800},"y2":{"datum":3720000}}},
{"data":{"values":[{}]},"mark":{"type":"point","shape":"triangle-up","filled":true,"color":"#a3a3a3","opacity":1,"size":250,"angle":0,"strokeWidth":0},"encoding":{"x":{"datum":1.79},"y":{"datum":3720000}}},
{"data":{"values":[{}]},"mark":{"type":"text","text":"N = 14","fontSize":20,"color":"#000000"},"encoding":{"x":{"datum":1.78},"y":{"datum":5930000}}},
{"data":{"values":[{}]},"mark":{"type":"text","text":"N = 0","fontSize":20,"color":"#000000"},"encoding":{"x":{"datum":1.81},"y":{"datum":14000}}}
]}
],"spacing":36,"bounds":"flush"}
],"spacing":32,"bounds":"flush"}
],"spacing":42,"bounds":"flush"}
],
"spacing":348,
"bounds":"flush"
}
